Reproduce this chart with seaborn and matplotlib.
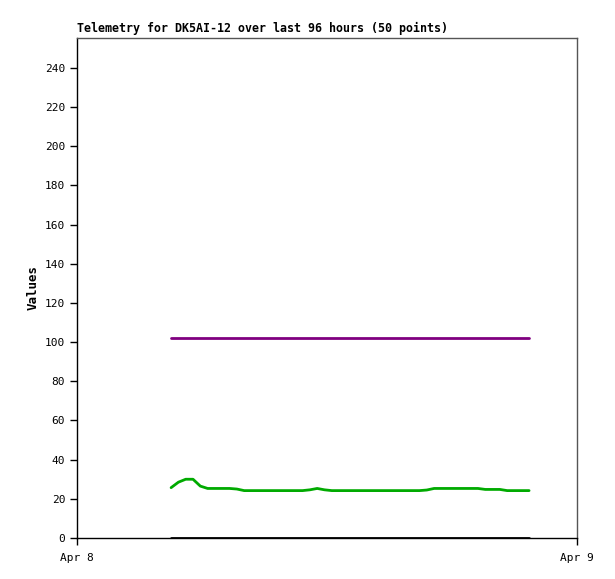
import matplotlib
matplotlib.use('Agg')
import matplotlib.pyplot as plt
import matplotlib.dates as mdates
import numpy as np
import pandas as pd
import seaborn as sns

# 데이터: 50개 측정점 (Apr 8 04:30 ~ 21:40)
start = pd.Timestamp('2024-04-08 04:31')
end = pd.Timestamp('2024-04-08 21:42')
times = pd.date_range(start, end, periods=50)

green_vals = [25.7, 28.5, 30.0, 30.0, 26.5, 25.3, 25.3, 25.3, 25.3, 25.0,
              24.2, 24.2, 24.2, 24.2, 24.2, 24.2, 24.2, 24.2, 24.2, 24.6,
              25.3, 24.6, 24.2, 24.2, 24.2, 24.2, 24.2, 24.2, 24.2, 24.2,
              24.2, 24.2, 24.2, 24.2, 24.2, 24.5, 25.3, 25.3, 25.3, 25.3,
              25.3, 25.3, 25.3, 24.8, 24.8, 24.8, 24.2, 24.2, 24.2, 24.2]
purple_vals = [102.3] * 50
black_vals = [0.0] * 50

df = pd.DataFrame({'time': times, 'green': green_vals,
                   'purple': purple_vals, 'black': black_vals})

sns.set_style('white')
plt.rcParams['font.family'] = ['DejaVu Sans Mono']
plt.rcParams['text.color'] = 'black'

fig = plt.figure(figsize=(6.15, 5.79), dpi=100)
ax = fig.add_axes([77/615, 1 - 538/579, 500/615, 500/579])

sns.lineplot(data=df, x='time', y='purple', color='#800080', linewidth=2, ax=ax)
sns.lineplot(data=df, x='time', y='green', color='#00aa00', linewidth=2, ax=ax)
sns.lineplot(data=df, x='time', y='black', color='black', linewidth=2, ax=ax)

ax.set_xlim(pd.Timestamp('2024-04-08'), pd.Timestamp('2024-04-09'))
ax.set_ylim(0, 255.3)
ax.set_yticks(range(0, 241, 20))
ax.set_xticks([pd.Timestamp('2024-04-08'), pd.Timestamp('2024-04-09')])
ax.xaxis.set_major_formatter(mdates.DateFormatter('%b %-d'))

ax.tick_params(axis='both', direction='out', length=5, width=1, labelsize=8,
               colors='black', left=True, bottom=True)
ax.tick_params(axis='x', pad=6)

for side in ['left', 'bottom']:
    ax.spines[side].set_color('black')
for side in ['top', 'right']:
    ax.spines[side].set_color('#555555')
for s in ax.spines.values():
    s.set_linewidth(1)

ax.set_xlabel('')
ax.set_ylabel('Values', fontsize=9, fontweight='bold', labelpad=4, color='black')
ax.set_title('Telemetry for DK5AI-12 over last 96 hours (50 points)',
             loc='left', fontsize=8.4, fontweight='bold', pad=4, color='black')

fig.savefig('out.png', dpi=100)
